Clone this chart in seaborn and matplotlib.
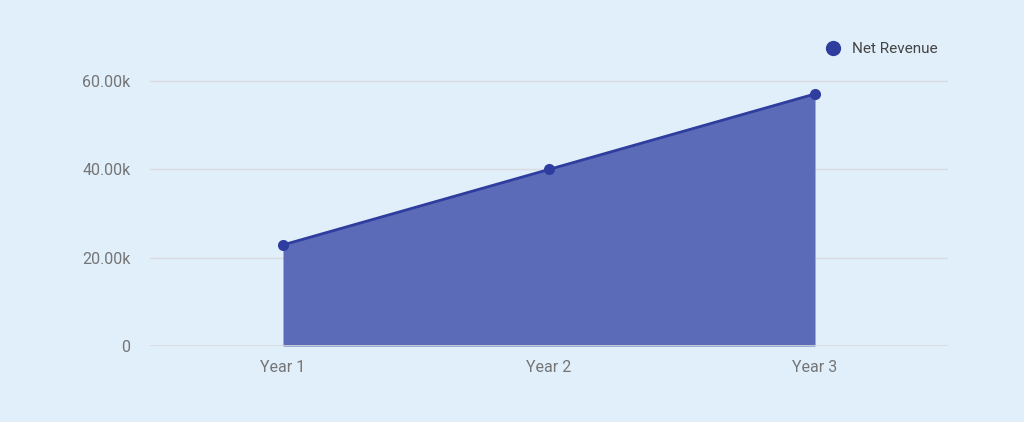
import matplotlib
matplotlib.use('Agg')
import matplotlib.pyplot as plt
import seaborn as sns
import pandas as pd
from matplotlib.ticker import FuncFormatter
from matplotlib.lines import Line2D

# data
years = ['Year 1', 'Year 2', 'Year 3']
net_revenue = [22900, 40000, 57100]
y_ticks = [0, 20000, 40000, 60000]

bg = '#e1effb'
line_color = '#2e3d9e'
fill_color = '#5c6bb7'

sns.set_theme(style='white')
plt.rcParams['font.family'] = ['Roboto', 'DejaVu Sans']

df = pd.DataFrame({'year': years, 'value': net_revenue})
df['pos'] = range(len(df))

fig = plt.figure(figsize=(10.24, 4.22), dpi=100, facecolor=bg)
ax = fig.add_axes([150 / 1024, 76 / 422, 798 / 1024, 309 / 422])
ax.set_facecolor(bg)

ax.fill_between(df['pos'], df['value'], 0, color=fill_color, linewidth=0, zorder=2)
sns.lineplot(data=df, x='pos', y='value', ax=ax, color=line_color, linewidth=2,
             marker='o', markersize=8, markeredgewidth=0, zorder=3)

ax.set_xlim(-0.5, 2.5)
ax.set_ylim(0, 70000)
ax.set_xticks(df['pos'])
ax.set_xticklabels(years)
ax.set_yticks(y_ticks)
ax.yaxis.set_major_formatter(FuncFormatter(lambda v, _: '0' if v == 0 else f'{v / 1000:.2f}k'))
ax.yaxis.grid(True, color='#d8dadd', linewidth=1, zorder=0)
ax.axhline(0, color='#d8dadd', linewidth=1.2, zorder=2.5)
ax.xaxis.grid(False)
ax.set_axisbelow(True)
ax.tick_params(axis='both', colors='#757575', labelsize=11.5, length=0)
ax.tick_params(axis='y', pad=14)
ax.tick_params(axis='x', pad=10)
ax.set_xlabel('')
ax.set_ylabel('')
for s in ax.spines.values():
    s.set_visible(False)

handle = Line2D([], [], linestyle='none', marker='o', markersize=11,
                color=line_color, markeredgewidth=0)
leg = fig.legend([handle], ['Net Revenue'], loc='center left',
                 bbox_to_anchor=(812 / 1024, 1 - 49 / 422), frameon=False,
                 fontsize=11, handletextpad=0.2, borderaxespad=0)
for t in leg.get_texts():
    t.set_color('#444444')

fig.savefig('out.png', dpi=100, facecolor=bg)
